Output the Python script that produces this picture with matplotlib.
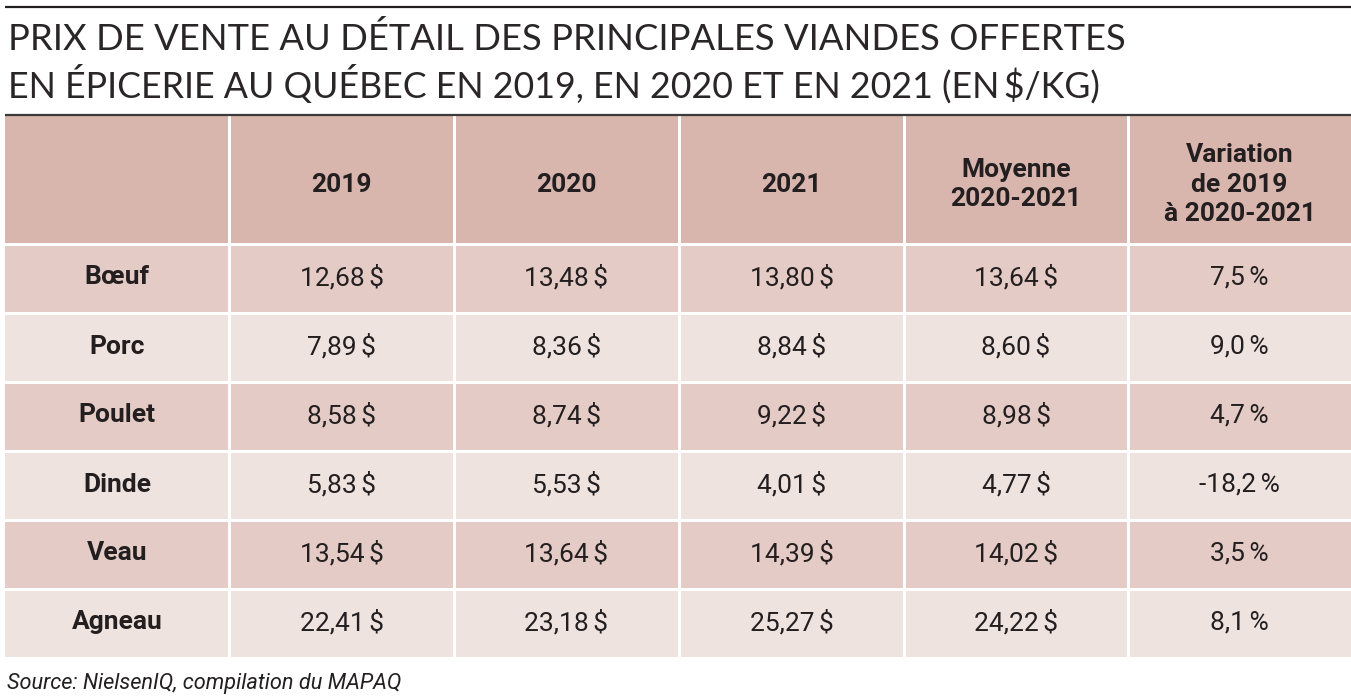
import matplotlib
matplotlib.use("Agg")
import matplotlib.pyplot as plt
from matplotlib.patches import Rectangle

# ---- data ----
title_lines = ["PRIX DE VENTE AU DÉTAIL DES PRINCIPALES VIANDES OFFERTES",
               "EN ÉPICERIE AU QUÉBEC EN 2019, EN 2020 ET EN 2021 (EN\u2009$/KG)"]
headers = ["", "2019", "2020", "2021", "Moyenne\n2020-2021", "Variation\nde 2019\nà 2020-2021"]
meats = ["Bœuf", "Porc", "Poulet", "Dinde", "Veau", "Agneau"]
p2019 = [12.68, 7.89, 8.58, 5.83, 13.54, 22.41]
p2020 = [13.48, 8.36, 8.74, 5.53, 13.64, 23.18]
p2021 = [13.80, 8.84, 9.22, 4.01, 14.39, 25.27]
avg_2020_2021 = [13.64, 8.60, 8.98, 4.77, 14.02, 24.22]
variation = [7.5, 9.0, 4.7, -18.2, 3.5, 8.1]
source = "Source: NielsenIQ, compilation du MAPAQ"

# ---- style ----
W, H = 1351, 699
HEAD_C = "#d8b5ad"
ODD_C = "#e4cbc5"
EVEN_C = "#efe3e0"
TXT = "#231f20"
BODY = ["Roboto", "DejaVu Sans"]

fig = plt.figure(figsize=(W / 100, H / 100), dpi=100)
ax = fig.add_axes([0, 0, 1, 1])
ax.set_xlim(0, W)
ax.set_ylim(H, 0)
ax.axis("off")

def money(v):
    return f"{v:.2f}".replace(".", ",") + "\u2006$"

def pct(v):
    return f"{v:.1f}".replace(".", ",") + "\u2006%"

# column edges and rows
col_edges = [5, 229, 454, 679, 904, 1128, 1351]
head_top, head_bot = 115, 244
row_h = 69
gap = 1.5

# top rule
ax.plot([5, W], [6.5, 6.5], color="#231f20", lw=1.6, solid_capstyle="butt")

# title
renderer = fig.canvas.get_renderer()
title_targets = [(1117, 39), (1095, 84)]
for line, (tw, ty) in zip(title_lines, title_targets):
    t = ax.text(8, ty, line, fontsize=24, family=["Lato", "DejaVu Sans"], fontweight="normal",
                color="#2a2627", ha="left", va="center")
    w = t.get_window_extent(renderer).width
    t.set_fontsize(24 * tw / w)

# header cells
for c in range(6):
    x0, x1 = col_edges[c], col_edges[c + 1]
    ax.add_patch(Rectangle((x0 + (gap if c > 0 else 0), head_top), x1 - x0 - (gap if c > 0 else 0) - (gap if c < 5 else 0),
                           head_bot - head_top - gap, facecolor=HEAD_C, edgecolor="none"))
    if headers[c]:
        ax.text((x0 + x1) / 2, (head_top + head_bot) / 2 + 5, headers[c], ha="center", va="center",
                fontsize=19, fontweight="bold", family=BODY, color=TXT, linespacing=1.28,
                multialignment="center")

ax.plot([5, W], [head_top, head_top], color="#3a3a3a", lw=1.6, solid_capstyle="butt")

# body
cols = [p2019, p2020, p2021, avg_2020_2021]
for r, meat in enumerate(meats):
    y0 = head_bot + r * row_h + gap
    y1 = head_bot + (r + 1) * row_h - gap
    fc = ODD_C if r % 2 == 0 else EVEN_C
    cells = [meat] + [money(cv[r]) for cv in cols] + [pct(variation[r])]
    for c in range(6):
        x0, x1 = col_edges[c], col_edges[c + 1]
        ax.add_patch(Rectangle((x0 + (gap if c > 0 else 0), y0), x1 - x0 - (gap if c > 0 else 0) - (gap if c < 5 else 0),
                               y1 - y0, facecolor=fc, edgecolor="none"))
        ax.text((x0 + x1) / 2, (y0 + y1) / 2 - 1, cells[c], ha="center", va="center",
                fontsize=19, fontweight="bold" if c == 0 else "normal", family=BODY, color=TXT)

# source
t = ax.text(7, 683, source, fontsize=16, family=BODY, style="italic", color=TXT,
            ha="left", va="center")
w = t.get_window_extent(renderer).width
t.set_fontsize(16 * 396 / w)

fig.savefig("out.png", dpi=100, facecolor="white")
